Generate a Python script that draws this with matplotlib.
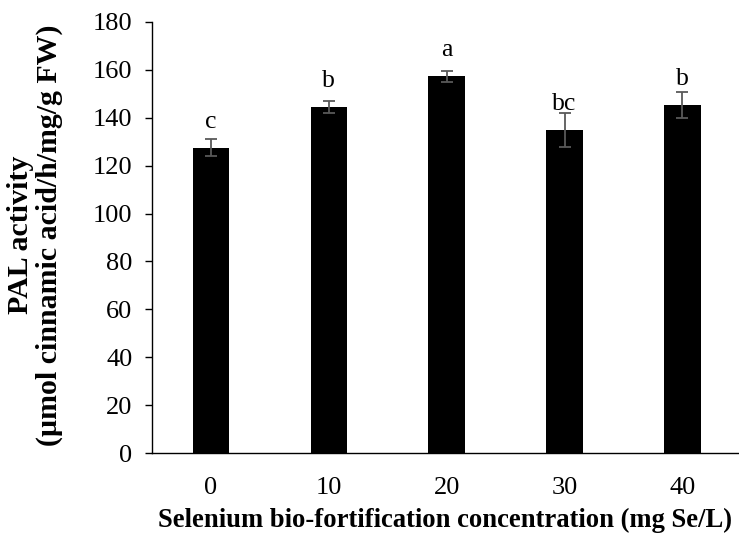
import matplotlib
matplotlib.use("Agg")
import matplotlib.pyplot as plt
import numpy as np

categories = ["0", "10", "20", "30", "40"]
means = [127.5, 144.4, 157.4, 134.8, 145.2]
errors = [3.5, 2.6, 2.3, 7.0, 5.4]
letters = ["c", "b", "a", "bc", "b"]
yticks = [0, 20, 40, 60, 80, 100, 120, 140, 160, 180]

plt.rcParams['font.family'] = ['Liberation Serif', 'DejaVu Serif']

fig = plt.figure(figsize=(7.39, 5.35), dpi=100)
ax = fig.add_axes([152/739, 1 - 453/535, (739 - 152)/739, (453 - 22)/535])

x = np.arange(len(categories))
ax.bar(x, means, width=0.31, color='black', zorder=2)
ax.errorbar(x, means, yerr=errors, fmt='none', ecolor='#595959',
            elinewidth=1.3, capsize=4.3, capthick=1.3, zorder=3)

for xi, m, lab in zip(x, means, letters):
    ax.annotate(lab, (xi, m), xytext=(0, 14.5), textcoords='offset points',
                ha='center', va='baseline', fontsize=18.5)

ax.set_xlim(-0.5, 4.48)
ax.set_ylim(0, 180)
ax.set_yticks(yticks)
ax.set_xticks(x)
ax.set_xticklabels(categories)
ax.tick_params(axis='y', direction='out', length=5, width=1, labelsize=19, pad=9)
ax.tick_params(axis='x', length=0, labelsize=19, pad=17)

for s in ['top', 'right']:
    ax.spines[s].set_visible(False)
ax.spines['left'].set_linewidth(1)
ax.spines['bottom'].set_linewidth(1)

ax.set_xlabel("Selenium bio-fortification concentration (mg Se/L)",
              fontsize=19.2, fontweight='bold', labelpad=7)
fig.text(35/739, 1 - 235/535, "PAL activity\n(µmol cinnamic acid/h/mg/g FW)",
         rotation=90, ha='center', va='center', fontsize=21.5,
         fontweight='bold', linespacing=1.05, multialignment='center')

fig.savefig("out.png", dpi=100)
